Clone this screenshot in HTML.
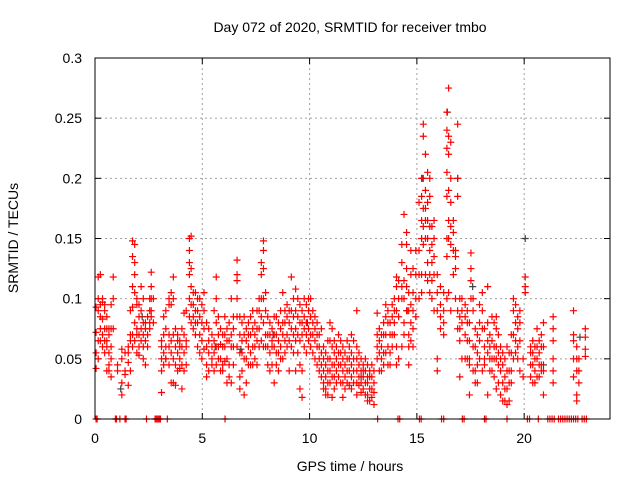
<!DOCTYPE html>
<html><head><meta charset="utf-8"><style>
body{margin:0;background:#fff}
svg{display:block;font-family:"Liberation Sans",sans-serif}
</style></head><body>
<svg id="chart" width="640" height="480" viewBox="0 0 640 480">
<text x="350" y="32" font-size="14" text-anchor="middle">Day 072 of 2020, SRMTID for receiver tmbo</text>
<text x="350" y="471" font-size="14" text-anchor="middle">GPS time / hours</text>
<text x="18" y="238" font-size="14" text-anchor="middle" transform="rotate(-90 18 238)">SRMTID / TECUs</text>
<g id="grid"></g>
<g id="ticks"></g>
<g id="marks"></g>
<rect x="95" y="58" width="515" height="361" fill="none" stroke="#000" stroke-width="1"/>
</svg>
<script>
const xTicks=[0,5,10,15,20];
const yTicks=[0,0.05,0.1,0.15,0.2,0.25,0.3];
const yTickLabels=["0","0.05","0.1","0.15","0.2","0.25","0.3"];
const bucketHours=[0.05,0.15,0.25,0.35,0.45,0.55,0.65,0.75,0.85,1.05,1.25,1.4,1.55,1.65,1.75,1.85,1.95,2.05,2.15,2.25,2.35,2.45,2.55,2.62,2.72,3.1,3.2,3.3,3.45,3.55,3.65,3.75,3.85,3.95,4.05,4.15,4.25,4.4,4.48,4.58,4.68,4.78,4.88,4.98,5.08,5.2,5.3,5.45,5.55,5.65,5.75,5.85,5.95,6.05,6.15,6.25,6.35,6.45,6.62,6.75,6.85,6.95,7.05,7.15,7.25,7.35,7.45,7.55,7.65,7.75,7.85,7.95,8.05,8.15,8.25,8.35,8.45,8.55,8.65,8.75,8.85,8.95,9.05,9.15,9.25,9.35,9.45,9.55,9.65,9.75,9.85,9.95,10.05,10.15,10.25,10.35,10.45,10.55,10.65,10.75,10.85,10.95,11.05,11.15,11.25,11.35,11.45,11.55,11.65,11.75,11.85,11.95,12.05,12.2,12.3,12.4,12.5,12.6,12.7,12.8,12.9,13.0,13.15,13.25,13.35,13.45,13.55,13.65,13.75,13.85,13.95,14.05,14.15,14.3,14.4,14.52,14.62,14.72,14.82,14.95,15.1,15.22,15.3,15.4,15.5,15.6,15.7,15.8,15.95,16.1,16.25,16.4,16.48,16.58,16.7,16.8,16.9,17.0,17.1,17.25,17.35,17.45,17.52,17.62,17.72,17.82,17.92,18.05,18.15,18.3,18.4,18.5,18.6,18.7,18.8,18.9,19.0,19.1,19.2,19.3,19.4,19.5,19.6,19.7,19.8,19.95,20.05,20.3,20.4,20.5,20.6,20.7,20.8,20.9,21.35,22.3,22.45,22.55,22.85];
const bucketValues=[[0.093,0.055,0.042,0.072],[0.05,0.118,0.1,0.09,0.065],[0.12,0.085,0.065,0.095,0.075],[0.1,0.083,0.07,0.06,0.097],[0.095,0.075,0.065,0.09,0.055],[0.075,0.065,0.04,0.085,0.06],[0.075,0.07,0.055,0.045,0.04],[0.075,0.05,0.035,0.095,0.06],[0.118,0.075,0.1],[0.045,0.04],[0.05,0.02,0.03,0.058],[0.055,0.037,0.04],[0.06,0.028,0.047,0.055],[0.07,0.065,0.04,0.09],[0.148,0.135,0.11,0.093,0.06,0.07],[0.145,0.13,0.12,0.105,0.08,0.065],[0.1,0.095,0.075,0.07,0.055],[0.095,0.085,0.07,0.06,0.053],[0.11,0.09,0.075,0.065],[0.1,0.08,0.07,0.06,0.05],[0.08,0.075,0.045,0.065],[0.085,0.07,0.06],[0.1,0.09,0.08,0.075],[0.122,0.11,0.1,0.09,0.085],[0.1,0.08],[0.065,0.06,0.04,0.05,0.022],[0.07,0.055,0.045,0.085],[0.075,0.09,0.06,0.05],[0.1,0.095,0.07,0.06,0.045],[0.105,0.095,0.065,0.055,0.03],[0.118,0.1,0.07,0.05,0.03],[0.075,0.06,0.045,0.028],[0.07,0.065,0.055,0.04],[0.065,0.06,0.05,0.042],[0.075,0.06,0.045,0.025],[0.07,0.055,0.04,0.088],[0.09,0.065,0.06,0.045],[0.15,0.14,0.13,0.12,0.1,0.085],[0.152,0.125,0.11,0.095,0.08],[0.105,0.095,0.085,0.075],[0.105,0.09,0.08,0.07],[0.1,0.09,0.08,0.06],[0.1,0.085,0.07,0.055],[0.095,0.08,0.065,0.05],[0.105,0.09,0.075,0.058],[0.08,0.06,0.045,0.035],[0.075,0.065,0.055,0.04],[0.07,0.06,0.05,0.045],[0.09,0.065,0.055,0.04],[0.118,0.1,0.08,0.06,0.045],[0.085,0.07,0.06,0.05],[0.075,0.062,0.05,0.04],[0.07,0.06,0.045,0.04],[0.085,0.07,0.06,0.048],[0.075,0.065,0.05,0.03],[0.08,0.065,0.045,0.035],[0.1,0.07,0.06,0.03],[0.085,0.075,0.06,0.045],[0.132,0.12,0.115,0.1,0.085,0.06],[0.085,0.07,0.055,0.035,0.025],[0.08,0.065,0.055,0.04],[0.085,0.07,0.05,0.02],[0.075,0.065,0.05,0.03],[0.08,0.07,0.06,0.045],[0.085,0.07,0.055,0.045],[0.09,0.075,0.06,0.045],[0.08,0.07,0.06,0.05],[0.09,0.075,0.065,0.045],[0.1,0.09,0.075,0.06],[0.13,0.12,0.1,0.085,0.065],[0.148,0.14,0.125,0.1,0.08,0.06],[0.105,0.09,0.07,0.06],[0.085,0.07,0.06,0.045],[0.08,0.07,0.055,0.04],[0.075,0.065,0.06,0.045],[0.085,0.07,0.06,0.03],[0.085,0.07,0.055,0.045],[0.08,0.065,0.055,0.04],[0.09,0.075,0.06,0.05],[0.105,0.08,0.07,0.05],[0.09,0.08,0.065,0.055],[0.095,0.085,0.07,0.06],[0.09,0.08,0.065,0.04],[0.118,0.09,0.075,0.06],[0.1,0.085,0.07,0.055],[0.108,0.09,0.075,0.065,0.04],[0.1,0.085,0.07,0.055],[0.095,0.08,0.065,0.045,0.025],[0.09,0.08,0.07,0.04,0.018],[0.1,0.085,0.075,0.06],[0.095,0.08,0.07,0.055],[0.1,0.09,0.075,0.065],[0.1,0.085,0.07,0.06],[0.09,0.08,0.07,0.055],[0.085,0.075,0.065,0.05],[0.08,0.07,0.06,0.045],[0.07,0.06,0.05,0.04],[0.075,0.055,0.045,0.035],[0.06,0.05,0.04,0.03,0.025],[0.055,0.045,0.035,0.025,0.02],[0.065,0.05,0.04,0.03,0.02],[0.08,0.065,0.05,0.04,0.03],[0.075,0.06,0.045,0.035,0.018],[0.065,0.055,0.045,0.035,0.025],[0.06,0.05,0.04,0.03],[0.07,0.055,0.045,0.035],[0.065,0.055,0.045,0.03],[0.06,0.05,0.04,0.03,0.018],[0.055,0.045,0.035,0.025],[0.065,0.05,0.04,0.03],[0.06,0.05,0.04,0.028],[0.07,0.055,0.045,0.035,0.025],[0.065,0.05,0.04,0.03],[0.09,0.06,0.05,0.04,0.03,0.02],[0.055,0.045,0.035,0.028],[0.05,0.04,0.03,0.022],[0.045,0.04,0.035,0.025],[0.05,0.04,0.03,0.02],[0.045,0.035,0.03,0.02,0.015],[0.04,0.035,0.025,0.015],[0.045,0.035,0.025,0.018],[0.04,0.03,0.022,0.012],[0.088,0.07,0.06,0.05],[0.075,0.065,0.055,0.04],[0.07,0.06,0.05,0.04],[0.08,0.07,0.055,0.045],[0.095,0.085,0.07,0.055],[0.09,0.08,0.06,0.045],[0.08,0.07,0.055,0.045],[0.095,0.085,0.07,0.06],[0.1,0.09,0.08,0.07],[0.118,0.11,0.09,0.06,0.045],[0.115,0.1,0.085,0.05],[0.145,0.13,0.11,0.1,0.06],[0.17,0.115,0.1,0.08,0.07],[0.155,0.145,0.125,0.11,0.09],[0.105,0.09,0.07,0.06,0.045],[0.14,0.12,0.095,0.08,0.065],[0.125,0.105,0.09,0.075,0.06],[0.14,0.12,0.1,0.085],[0.18,0.14,0.12,0.1],[0.2,0.185,0.165,0.15,0.12,0.105],[0.245,0.235,0.2,0.175,0.16,0.145],[0.22,0.19,0.175,0.165,0.15,0.12],[0.205,0.18,0.165,0.15,0.13,0.115],[0.2,0.185,0.16,0.14,0.12,0.105],[0.16,0.145,0.13,0.115,0.1],[0.165,0.15,0.135,0.12,0.09],[0.12,0.105,0.09,0.05,0.04],[0.11,0.095,0.085,0.075],[0.105,0.09,0.08,0.07],[0.255,0.24,0.225,0.205,0.185,0.15,0.135,0.1],[0.275,0.235,0.22,0.19,0.165,0.15,0.105],[0.23,0.2,0.18,0.16,0.145,0.09],[0.165,0.155,0.14,0.12],[0.14,0.135,0.125,0.1],[0.245,0.2,0.185,0.09,0.075],[0.1,0.085,0.075,0.065,0.035],[0.1,0.09,0.08,0.05],[0.095,0.085,0.07,0.05],[0.09,0.08,0.065,0.05],[0.08,0.065,0.05,0.045,0.02],[0.138,0.125,0.115,0.1],[0.1,0.09,0.06,0.04],[0.075,0.06,0.04,0.03],[0.07,0.055,0.045,0.03],[0.095,0.08,0.065,0.05],[0.105,0.09,0.075,0.04],[0.075,0.06,0.05,0.045],[0.11,0.08,0.065,0.055,0.02],[0.07,0.06,0.05,0.04],[0.085,0.065,0.05,0.04],[0.08,0.06,0.05,0.035],[0.085,0.075,0.06,0.05,0.025],[0.07,0.055,0.045,0.03],[0.06,0.05,0.04,0.02],[0.055,0.045,0.03,0.015],[0.05,0.035,0.025,0.015],[0.06,0.04,0.025,0.012],[0.055,0.04,0.03,0.015],[0.07,0.055,0.04,0.03],[0.1,0.09,0.07,0.05],[0.095,0.08,0.065,0.055],[0.085,0.075,0.06,0.05],[0.09,0.08,0.065,0.04],[0.05,0.035],[0.118,0.11,0.105],[0.06,0.055,0.045,0.035],[0.065,0.055,0.045,0.03],[0.06,0.05,0.04,0.03],[0.075,0.06,0.05,0.035],[0.065,0.055,0.045,0.035],[0.07,0.06,0.045,0.04],[0.08,0.06,0.04,0.02],[0.085,0.075,0.065,0.05,0.04,0.03],[0.09,0.07,0.065,0.05,0.035],[0.06,0.05,0.04,0.02,0.015],[0.05,0.04,0.03],[0.075,0.068,0.058,0.052]];
const zeroHours=[0.05,0.1,0.95,1.0,1.16,1.4,1.45,2.4,2.8,2.85,2.9,2.95,3.0,3.05,3.37,6.06,13.17,14.12,14.2,15.12,15.2,16.15,16.25,17.12,17.2,18.15,18.22,19.2,20.15,20.25,20.66,21.1,21.2,21.3,21.4,21.6,21.7,21.8,21.9,22.0,22.1,22.2,22.3,22.4,22.5,22.7,22.8,22.9];
const grayHours=[1.2,2.2,3.3,5.6,6.8,8.3,9.9,12.4,14.55,15.25,16.42,16.9,17.6,20.05,20.9,22.6];
const grayValues=[0.025,0.085,0.05,0.06,0.058,0.07,0.08,0.035,0.09,0.2,0.255,0.2,0.11,0.15,0.045,0.068];

const X0=95,X1=610,Y0=419,Y1=58,XMAX=24,YMAX=0.3;
function xs(h){return X0+(X1-X0)*h/XMAX;}
function ys(v){return Y0-(Y0-Y1)*v/YMAX;}
const NS="http://www.w3.org/2000/svg";
const grid=document.getElementById('grid'),ticks=document.getElementById('ticks'),marks=document.getElementById('marks'),svg=document.getElementById('chart');
function mk(tag,attrs,parent){const e=document.createElementNS(NS,tag);for(const k in attrs)e.setAttribute(k,attrs[k]);parent.appendChild(e);return e;}
xTicks.forEach(function(t){
  const x=xs(t);
  if(t>0){const g=mk('line',{x1:x,x2:x,y1:Y1,y2:Y0,stroke:'#a0a0a0','stroke-dasharray':'2,3','stroke-width':1},grid);
  
  }
  const a=mk('line',{x1:x,x2:x,y1:Y0,y2:Y0-6,stroke:'#000'},ticks);
  
  
  const b=mk('line',{x1:x,x2:x,y1:Y1,y2:Y1+6,stroke:'#000'},ticks);
  
  
  const l=mk('text',{x:x,y:443,'font-size':14,'text-anchor':'middle'},svg);
  l.textContent=String(t);
  
  
});
yTicks.forEach(function(t,i){
  const y=ys(t);
  if(t>0&&t<YMAX){const g=mk('line',{x1:X0,x2:X1,y1:y,y2:y,stroke:'#a0a0a0','stroke-dasharray':'2,3','stroke-width':1},grid);
  
  }
  const a=mk('line',{x1:X0,x2:X0+6,y1:y,y2:y,stroke:'#000'},ticks);
  
  
  const b=mk('line',{x1:X1,x2:X1-6,y1:y,y2:y,stroke:'#000'},ticks);
  
  
  const l=mk('text',{x:82,y:y+5,'font-size':14,'text-anchor':'end'},svg);
  l.textContent=yTickLabels[i];
  
  
});
function plus(h,v,color,name){
  const x=xs(h),y=ys(v);
  const p=mk('path',{d:'M'+(x-3.5)+' '+y+'H'+(x+3.5)+'M'+x+' '+(y-3.5)+'V'+(y+3.5),stroke:color,'stroke-width':1.2,fill:'none'},marks);
  
  
}
grayHours.forEach(function(h,i){plus(h,grayValues[i],'#404040','gray-point');});
bucketHours.forEach(function(h,i){bucketValues[i].forEach(function(v){plus(h,v,'#ff0000','srmtid-point');});});
zeroHours.forEach(function(h){plus(h,0,'#ff0000','zero-point');});
</script>
</body></html>
